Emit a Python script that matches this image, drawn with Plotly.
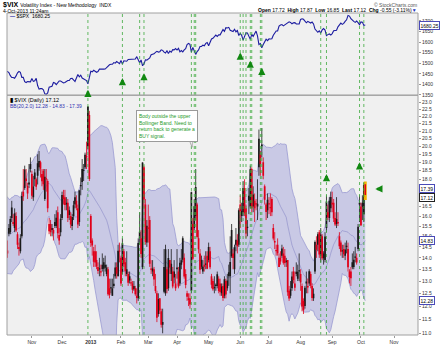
import math
import pandas as pd
import plotly.graph_objects as go

# ---------------- DATA ----------------
holidays = ['2012-10-29', '2012-10-30', '2012-11-22', '2012-12-25', '2013-01-01', '2013-01-21',
            '2013-02-18', '2013-03-29', '2013-05-27', '2013-07-04', '2013-09-02', '2013-11-28']
first_day = '2012-09-07'
last_day = '2013-10-04'
axis_end_day = '2013-11-29'

# $VIX daily OHLC, Sep-2012 .. 4-Oct-2013 (one row per month)
vix_open = [
    15.30, 15.20, 16.10, 15.60, 15.90, 13.70, 14.70, 14.60, 14.30, 14.80, 13.90, 15.30, 14.60, 16.90, 16.40, 16.10,
    15.60, 16.00, 16.20, 15.30, 14.20, 15.40, 15.20, 15.90, 15.70, 15.40, 16.00, 15.10, 14.50, 14.30, 15.00, 17.30, 17.50, 17.90, 17.20, 17.70, 18.90,
    18.30, 17.00, 18.00, 18.00, 18.20, 18.70, 19.00, 18.30, 18.50, 16.90, 18.00, 17.90, 15.60, 15.60, 15.40, 15.30, 15.70, 15.50, 16.20, 14.80, 15.20,
    15.90, 17.10, 17.00, 16.60, 16.70, 16.30, 16.00, 15.50, 16.00, 16.60, 16.80, 16.40, 15.70, 17.60, 18.60, 18.50, 18.70, 19.30, 20.00, 22.10,
    16.00, 14.80, 14.30, 14.30, 13.90, 13.60, 13.50, 13.40, 13.70, 13.80, 13.70, 13.30, 13.50, 12.70, 12.70, 12.40, 12.80, 13.20, 13.60, 13.20, 14.30,
    14.00, 13.40, 14.30, 13.80, 13.30, 13.30, 13.20, 12.90, 12.90, 12.80, 12.70, 12.40, 12.30, 14.90, 14.90, 13.60, 18.70, 16.60, 14.70,
    15.40, 15.80, 13.50, 13.40, 13.50, 12.80, 12.50, 11.70, 12.30, 11.80, 11.40, 13.60, 12.50, 13.50, 12.70, 13.90, 13.30, 13.40, 13.40, 12.90,
    13.50, 13.40, 12.90, 13.70, 14.90, 14.00, 13.30, 12.50, 12.30, 12.30, 12.60, 15.60, 15.40, 16.00, 16.60, 14.90, 14.20, 13.90, 13.40, 13.70, 13.70, 14.10,
    13.90, 14.30, 13.20, 13.00, 12.70, 12.80, 12.80, 13.10, 12.90, 12.50, 12.80, 12.40, 13.00, 12.70, 13.20, 13.20, 15.30, 14.20, 13.50, 14.60, 14.80, 14.60,
    16.60, 16.00, 16.20, 17.50, 16.40, 15.40, 16.80, 16.50, 18.60, 16.50, 16.40, 16.60, 16.50, 18.70, 19.50, 20.00, 19.00, 17.60, 16.60, 16.30,
    16.60, 16.40, 16.90, 15.40, 14.70, 14.30, 14.60, 13.60, 14.00, 14.10, 14.20, 14.10, 13.80, 13.90, 12.60, 12.40, 12.70, 13.40, 12.90, 13.30, 13.10, 13.40,
    13.30, 12.80, 12.20, 12.00, 12.90, 12.80, 12.90, 13.30, 12.80, 12.30, 13.40, 14.60, 14.60, 15.20, 14.10, 15.00, 14.20, 13.90, 15.40, 16.20, 15.90, 16.40,
    16.70, 16.70, 15.90, 15.60, 15.70, 15.00, 14.70, 14.30, 14.40, 14.10, 14.50, 14.40, 13.40, 13.40, 13.80, 13.60, 14.00, 14.00, 14.40, 16.70,
    16.50, 16.70, 16.10, 17.72,
]
vix_high = [
    15.60, 16.50, 16.40, 16.10, 16.20, 14.70, 15.00, 14.90, 14.60, 14.90, 14.70, 15.40, 16.90, 17.30, 16.60, 16.30,
    16.30, 16.40, 16.40, 15.50, 14.80, 15.60, 16.00, 16.80, 16.10, 16.40, 16.20, 15.20, 14.70, 15.10, 17.30, 18.60, 18.80, 18.60, 17.80, 18.90, 19.30,
    18.50, 18.20, 18.60, 18.10, 19.50, 19.70, 19.10, 18.60, 18.60, 18.60, 18.60, 18.00, 15.90, 15.80, 15.60, 15.40, 16.10, 16.30, 16.50, 15.40, 16.10,
    17.30, 17.40, 17.40, 17.00, 16.90, 16.50, 16.20, 16.10, 16.80, 17.30, 17.10, 16.60, 17.40, 18.10, 19.20, 18.90, 19.60, 20.30, 22.72, 22.40,
    16.10, 14.90, 14.50, 14.60, 14.30, 13.80, 14.00, 13.70, 14.20, 14.00, 14.10, 13.70, 13.60, 13.10, 13.10, 13.10, 13.30, 13.80, 13.80, 14.60, 14.70,
    14.10, 14.90, 14.40, 14.00, 14.30, 13.40, 13.40, 13.10, 13.00, 13.00, 12.80, 12.70, 14.90, 16.20, 15.30, 19.00, 18.80, 16.90, 15.80,
    16.60, 16.00, 13.90, 13.90, 13.60, 13.30, 12.60, 12.50, 12.30, 11.90, 11.90, 14.40, 14.60, 13.60, 14.40, 13.90, 14.40, 13.60, 13.90, 13.30,
    14.40, 13.60, 14.00, 14.40, 15.00, 14.20, 13.50, 12.60, 12.50, 12.50, 17.30, 15.90, 16.90, 18.60, 16.70, 15.30, 14.40, 14.10, 13.90, 14.10, 14.30, 14.30,
    14.70, 14.50, 13.30, 13.10, 13.20, 12.90, 13.40, 13.20, 13.10, 12.90, 12.90, 13.20, 13.10, 13.30, 13.70, 15.00, 15.60, 14.40, 14.60, 15.40, 15.10, 16.40,
    17.10, 16.70, 17.90, 18.00, 16.60, 15.80, 17.50, 18.80, 18.70, 17.60, 17.20, 16.90, 18.00, 21.10, 19.70, 21.20, 19.30, 17.70, 16.70, 17.20,
    17.00, 17.20, 17.00, 15.60, 15.20, 14.60, 14.90, 14.20, 14.30, 14.60, 14.50, 14.40, 14.00, 13.90, 12.80, 13.00, 13.40, 13.60, 13.40, 13.80, 13.70, 14.20,
    13.50, 12.90, 12.30, 12.80, 13.40, 13.10, 13.50, 13.40, 12.90, 12.70, 14.80, 15.00, 15.20, 15.30, 15.40, 15.10, 14.30, 15.20, 17.10, 16.60, 17.00, 17.30,
    17.30, 16.90, 16.20, 17.00, 16.20, 15.20, 14.80, 14.60, 14.60, 14.70, 14.80, 14.70, 13.50, 13.60, 14.20, 14.30, 14.50, 14.20, 15.60, 17.10,
    16.70, 17.10, 17.80, 17.87,
]
vix_low = [
    14.30, 15.10, 15.60, 15.40, 14.00, 13.30, 14.30, 14.10, 13.80, 13.90, 13.80, 14.70, 14.50, 16.20, 15.30, 15.40,
    15.30, 15.30, 15.30, 14.50, 14.00, 15.00, 15.10, 15.70, 15.50, 15.20, 15.20, 14.40, 14.10, 14.20, 14.90, 16.80, 17.40, 17.60, 16.90, 17.50, 18.40,
    16.90, 16.80, 17.60, 17.40, 17.70, 18.50, 18.10, 17.60, 17.40, 16.80, 17.30, 16.20, 15.10, 15.00, 15.00, 14.80, 15.40, 15.40, 14.90, 14.60, 15.00,
    15.80, 16.60, 16.30, 16.30, 15.70, 15.80, 15.40, 15.30, 15.80, 16.40, 16.30, 15.40, 15.50, 17.10, 17.40, 17.90, 18.60, 18.60, 19.80, 17.90,
    14.50, 14.10, 13.60, 13.60, 13.50, 13.30, 13.20, 13.20, 13.40, 13.20, 13.40, 13.20, 12.40, 12.30, 12.50, 12.40, 12.70, 13.10, 13.10, 13.20, 13.80,
    12.80, 13.30, 13.60, 13.20, 13.20, 12.80, 12.90, 12.80, 12.50, 12.60, 12.40, 12.10, 12.20, 14.60, 14.00, 13.50, 16.40, 14.60, 14.50,
    14.70, 13.60, 13.30, 13.20, 12.80, 12.50, 11.40, 11.60, 11.70, 11.20, 11.00, 12.50, 12.40, 12.50, 12.60, 13.30, 13.00, 12.70, 12.90, 12.60,
    13.10, 12.70, 12.80, 13.50, 13.80, 13.10, 12.70, 12.20, 12.00, 11.90, 12.50, 13.90, 15.30, 15.80, 14.90, 14.20, 13.30, 13.50, 13.30, 13.40, 13.50, 13.50,
    13.80, 13.50, 12.70, 12.60, 12.50, 12.60, 12.70, 12.50, 12.40, 12.40, 12.20, 12.30, 12.30, 12.60, 12.80, 12.50, 14.00, 13.50, 13.30, 14.30, 14.20, 14.50,
    15.40, 15.70, 16.00, 16.00, 14.90, 15.00, 16.10, 16.40, 16.20, 16.20, 15.70, 16.30, 15.80, 18.20, 18.20, 19.30, 18.00, 16.60, 15.80, 15.90,
    16.10, 16.00, 16.00, 14.80, 14.40, 14.10, 14.10, 13.60, 13.70, 14.00, 13.70, 13.60, 13.60, 12.40, 12.20, 12.30, 12.60, 12.90, 12.60, 13.20, 13.00, 13.00,
    12.60, 11.80, 11.70, 11.90, 12.50, 12.50, 12.80, 12.70, 12.20, 12.20, 13.30, 14.00, 14.30, 14.00, 13.80, 13.90, 13.70, 13.80, 15.20, 15.80, 15.70, 16.20,
    16.20, 15.70, 15.50, 15.40, 15.50, 14.40, 14.10, 14.00, 14.00, 13.90, 14.20, 13.40, 12.90, 12.80, 13.50, 13.50, 13.80, 13.70, 14.30, 15.70,
    15.50, 15.80, 15.70, 16.85,
]
vix_close = [
    14.38, 16.28, 15.80, 15.80, 14.05, 14.51, 14.59, 14.18, 13.88, 13.98, 14.51, 14.80, 16.81, 16.98, 15.43, 15.73,
    15.92, 15.71, 15.43, 14.55, 14.33, 15.12, 15.85, 16.44, 15.60, 16.14, 15.28, 14.60, 14.40, 14.90, 17.06, 17.04, 18.57, 18.05, 17.61, 17.81, 18.60,
    17.08, 17.59, 18.39, 17.58, 18.94, 19.08, 18.61, 17.88, 17.71, 18.14, 17.99, 16.41, 15.24, 15.19, 15.31, 15.14, 15.50, 15.92, 15.15, 15.06, 15.87,
    17.12, 16.90, 16.58, 16.70, 15.90, 16.05, 15.57, 15.95, 16.56, 17.00, 16.43, 15.57, 17.36, 17.67, 17.84, 18.48, 19.47, 19.40, 22.72, 18.02,
    14.68, 14.56, 13.83, 13.79, 13.62, 13.42, 13.49, 13.36, 13.51, 13.52, 13.56, 13.57, 12.46, 12.43, 12.69, 12.69, 12.89, 13.57, 13.31, 14.32, 14.28,
    12.90, 14.67, 13.72, 13.41, 13.50, 12.93, 13.02, 12.94, 12.64, 12.66, 12.46, 12.31, 14.68, 15.22, 14.17, 18.99, 16.87, 14.73, 15.51,
    15.36, 13.74, 13.48, 13.53, 13.06, 12.59, 11.56, 12.27, 11.83, 11.30, 11.30, 12.56, 14.39, 12.67, 13.99, 13.57, 13.74, 12.77, 13.15, 12.70,
    13.58, 12.77, 13.78, 13.89, 13.92, 13.19, 12.84, 12.36, 12.24, 12.06, 17.27, 13.96, 16.51, 17.56, 14.97, 14.39, 13.48, 13.61, 13.62, 13.61, 13.71, 13.52,
    14.49, 13.59, 12.85, 12.66, 12.73, 12.83, 13.28, 12.59, 12.55, 12.77, 12.31, 13.07, 12.45, 13.02, 13.37, 13.82, 14.07, 13.99, 14.48, 14.83, 14.53, 16.30,
    16.25, 16.27, 17.50, 16.14, 15.14, 15.44, 17.07, 18.59, 16.41, 17.15, 16.80, 16.61, 16.64, 20.49, 18.90, 20.11, 18.21, 16.86, 16.21, 16.86,
    16.60, 16.44, 16.20, 14.89, 14.78, 14.35, 14.21, 14.01, 13.84, 14.42, 13.78, 13.77, 13.88, 12.54, 12.29, 12.66, 13.19, 13.04, 12.72, 13.39, 13.39, 13.45,
    12.94, 11.98, 11.84, 12.72, 12.98, 12.73, 13.41, 12.81, 12.31, 12.48, 14.73, 14.37, 15.10, 14.15, 15.08, 13.98, 13.98, 14.99, 16.77, 15.94, 16.81, 17.01,
    16.61, 15.88, 15.58, 15.85, 15.63, 14.53, 14.28, 14.29, 14.16, 14.38, 14.53, 13.59, 13.16, 13.12, 13.59, 13.92, 14.01, 13.79, 15.46, 16.60,
    15.54, 16.48, 17.67, 17.12,
]
# $SPX daily close, same days
spx_close = [
    1437.9, 1429.1, 1433.6, 1436.6, 1460.0, 1465.8, 1461.2, 1459.3, 1461.1, 1460.3, 1460.2, 1456.9, 1441.6, 1433.3, 1447.2, 1440.7,
    1444.5, 1445.8, 1451.0, 1461.4, 1460.9, 1455.9, 1441.5, 1432.6, 1432.8, 1428.6, 1440.1, 1454.9, 1460.9, 1457.3, 1433.2, 1433.8, 1413.1, 1408.8, 1413.0, 1411.9, 1412.2,
    1427.6, 1414.2, 1417.3, 1428.4, 1394.5, 1377.5, 1379.9, 1380.0, 1374.5, 1355.5, 1353.3, 1359.9, 1386.9, 1387.8, 1391.0, 1409.2, 1406.3, 1398.9, 1409.9, 1416.0, 1416.2,
    1409.5, 1407.1, 1409.3, 1413.9, 1418.1, 1418.6, 1427.8, 1428.5, 1419.5, 1413.6, 1430.4, 1446.8, 1435.8, 1443.7, 1430.2, 1426.7, 1419.8, 1418.1, 1402.4, 1426.2,
    1462.4, 1459.4, 1466.5, 1461.9, 1457.2, 1461.0, 1472.1, 1472.1, 1470.7, 1472.3, 1472.6, 1480.9, 1486.0, 1492.6, 1494.8, 1494.8, 1503.0, 1500.2, 1507.8, 1502.0, 1498.1,
    1513.2, 1495.7, 1511.3, 1512.1, 1509.4, 1517.9, 1518.0, 1519.4, 1520.3, 1521.4, 1519.8, 1530.9, 1512.0, 1502.4, 1515.6, 1487.9, 1496.9, 1516.0, 1514.7,
    1518.2, 1525.2, 1539.8, 1541.5, 1544.3, 1551.2, 1556.2, 1552.5, 1554.5, 1563.2, 1560.7, 1552.1, 1548.3, 1558.7, 1545.8, 1556.9, 1551.7, 1563.8, 1562.9, 1569.2,
    1562.2, 1570.3, 1553.7, 1560.0, 1553.3, 1563.1, 1568.6, 1587.7, 1593.4, 1588.9, 1552.4, 1574.6, 1552.0, 1541.6, 1555.3, 1562.5, 1578.8, 1578.8, 1585.2, 1582.2, 1593.6, 1597.6,
    1582.7, 1597.6, 1614.4, 1617.5, 1626.0, 1632.7, 1626.7, 1633.7, 1633.8, 1650.3, 1658.8, 1650.5, 1667.5, 1666.3, 1669.2, 1655.4, 1650.5, 1649.6, 1660.1, 1648.4, 1654.4, 1630.7,
    1640.4, 1631.4, 1608.9, 1622.6, 1643.4, 1642.8, 1626.1, 1612.5, 1636.4, 1626.7, 1639.0, 1651.8, 1628.9, 1588.2, 1592.4, 1573.1, 1588.0, 1603.3, 1613.2, 1606.3,
    1615.0, 1614.1, 1615.4, 1631.9, 1640.5, 1652.3, 1652.6, 1675.0, 1680.2, 1682.5, 1676.3, 1680.9, 1689.4, 1692.1, 1695.5, 1692.4, 1685.9, 1690.3, 1691.7, 1685.3, 1686.0, 1685.7,
    1706.9, 1709.7, 1707.1, 1697.4, 1690.9, 1697.5, 1691.4, 1689.5, 1694.2, 1685.4, 1661.3, 1655.8, 1646.1, 1652.4, 1642.8, 1657.0, 1663.5, 1656.8, 1630.5, 1635.0, 1638.2, 1633.0,
    1639.8, 1653.1, 1655.1, 1655.2, 1671.7, 1684.0, 1689.1, 1683.4, 1688.0, 1697.6, 1704.8, 1725.5, 1722.3, 1709.9, 1701.8, 1697.4, 1692.8, 1698.7, 1691.8, 1681.6,
    1695.0, 1693.9, 1678.7, 1680.25,
]

# signal lines and arrows
signal_dates = ['2012-12-28', '2013-02-04', '2013-02-21', '2013-02-26', '2013-04-15', '2013-04-17',
                '2013-04-18', '2013-06-03', '2013-06-05', '2013-06-07', '2013-06-12', '2013-06-13',
                '2013-06-21', '2013-06-24', '2013-08-21', '2013-08-27', '2013-09-30', '2013-10-03']
spx_arrow_dates = ['2012-12-28', '2013-02-04', '2013-02-26', '2013-06-03', '2013-06-12', '2013-06-24']
spx_arrow_levels = [1375, 1430, 1453, 1550, 1512, 1478]
vix_arrow_dates = ['2013-08-27', '2013-09-30']
vix_arrow_levels = [18.3, 19.0]
pointer_date = '2013-10-15'
pointer_level = 17.45

vix_ticks = [11.0 + 0.5 * i for i in range(25)]
spx_ticks = [1350, 1400, 1450, 1500, 1550, 1600, 1650, 1700]
month_labels = ['Nov', 'Dec', '<b>2013</b>', 'Feb', 'Mar', 'Apr', 'May', 'Jun', 'Jul', 'Aug', 'Sep', 'Oct', 'Nov']

note_text = 'Body outside the upper<br>Bollinger Band. Need to<br>return back to generate a<br>BUY signal.'

# ---------------- BUILD ----------------
days = pd.bdate_range(first_day, axis_end_day)
days = days[~days.isin(pd.to_datetime(holidays))]
n = len(vix_close)
assert len(vix_open) == n and len(vix_high) == n and len(vix_low) == n and len(spx_close) == n
assert days[n - 1] == pd.Timestamp(last_day), days[n - 1]
pos = {d: i for i, d in enumerate(days)}
xi = list(range(n))


def X(d):
    return pos[pd.Timestamp(d)]


close_s = pd.Series(vix_close)
mid = close_s.rolling(20).mean()
sd = close_s.rolling(20).std(ddof=0)
upper = mid + 2 * sd
lower = mid - 2 * sd

sel = days[(days >= '2012-11-01')]
month_first = pd.Series(range(len(days)), index=days)[sel].groupby([sel.year, sel.month]).min()
tickpos = list(month_first.values)[:len(month_labels)]

W, H = 440, 352
ML, MR, MT, MB = 7, 20, 13, 8
PH = H - MT - MB
split = (344 - 97.5) / PH

FONT = 'Liberation Sans, Arial, sans-serif'
GREEN = '#1f9a1f'

fig = go.Figure()

fig.add_trace(go.Scatter(x=xi, y=upper, mode='lines', line=dict(color='#9a9ad2', width=0.8),
                         hoverinfo='skip', showlegend=False))
fig.add_trace(go.Scatter(x=xi, y=lower, mode='lines', line=dict(color='#9a9ad2', width=0.8),
                         fill='tonexty', fillcolor='rgba(178,178,222,0.62)', hoverinfo='skip', showlegend=False))
fig.add_trace(go.Scatter(x=xi, y=mid, mode='lines', line=dict(color='#8c8cc8', width=0.6),
                         hoverinfo='skip', showlegend=False))

# candles drawn as wick + body segments (StockCharts colouring: red if close below prior close)
groups = {'black': ([], [], [], []), 'red': ([], [], [], [])}
for i in range(n - 1):
    prev = vix_close[i - 1] if i > 0 else vix_open[i]
    g = 'red' if vix_close[i] < prev else 'black'
    wx, wy, bx, by = groups[g]
    wx += [i, i, None]
    wy += [vix_low[i], vix_high[i], None]
    lo_b, hi_b = min(vix_open[i], vix_close[i]), max(vix_open[i], vix_close[i])
    if hi_b / lo_b < 1.004:
        hi_b = lo_b * 1.004
    bx += [i, i, None]
    by += [lo_b, hi_b, None]
colors = {'black': '#1a1a1a', 'red': '#e0001a'}
for g, (wx, wy, bx, by) in groups.items():
    fig.add_trace(go.Scatter(x=wx, y=wy, mode='lines', line=dict(color=colors[g], width=0.8),
                             hoverinfo='skip', showlegend=False))
    fig.add_trace(go.Scatter(x=bx, y=by, mode='lines', line=dict(color=colors[g], width=1.7),
                             hoverinfo='skip', showlegend=False))
j = n - 1
fig.add_trace(go.Scatter(x=[j, j], y=[vix_low[j], vix_high[j]], mode='lines',
                         line=dict(color='#f2b400', width=3), hoverinfo='skip', showlegend=False))
fig.add_trace(go.Scatter(x=[j, j], y=[min(vix_open[j], vix_close[j]), max(vix_open[j], vix_close[j])],
                         mode='lines', line=dict(color='#e0001a', width=1.6), hoverinfo='skip', showlegend=False))

fig.add_trace(go.Scatter(x=xi, y=spx_close, yaxis='y2', mode='lines',
                         line=dict(color='#1c1ca0', width=1.1), showlegend=False, hoverinfo='skip'))

shapes = []
for d in signal_dates:
    x = X(d)
    shapes.append(dict(type='line', xref='x', yref='paper', x0=x, x1=x, y0=0, y1=1,
                       line=dict(color='#3caa3c', width=0.8, dash='dot'), layer='above'))
shapes.append(dict(type='rect', xref='paper', yref='paper', x0=0, x1=1, y0=split, y1=1,
                   line=dict(color='#a0a0a0', width=1)))
shapes.append(dict(type='rect', xref='paper', yref='paper', x0=0, x1=1, y0=0, y1=split,
                   line=dict(color='#a0a0a0', width=1)))

ann = []


def fx(px):
    return (px - ML) / (W - ML - MR)


def fy(py):
    return (H - MB - py) / PH


ann.append(dict(xref='paper', yref='paper', x=fx(1), y=fy(5), xanchor='left', yanchor='middle',
                text='<b>$VIX</b> <span style="font-size:5px">Volatility Index - New Methodology  INDX</span>',
                font=dict(size=7, color='#000', family=FONT), showarrow=False))
ann.append(dict(xref='paper', yref='paper', x=fx(1), y=fy(10.5), xanchor='left', yanchor='middle',
                text='4-Oct-2013 11:24am', font=dict(size=5, color='#000', family=FONT), showarrow=False))
ann.append(dict(xref='paper', yref='paper', x=fx(421), y=fy(4.5), xanchor='right', yanchor='middle',
                text='© StockCharts.com', font=dict(size=5, color='#555', family=FONT), showarrow=False))
ann.append(dict(xref='paper', yref='paper', x=fx(421), y=fy(10), xanchor='right', yanchor='middle',
                text='<b>Open</b> 17.72  <b>High</b> 17.87  <b>Low</b> 16.85  <b>Last</b> 17.12  <b>Chg</b> -0.55 (-3.11%)<span style="color:#2030c0">▼</span>',
                font=dict(size=5, color='#000', family=FONT), showarrow=False))
ann.append(dict(xref='paper', yref='paper', x=fx(8), y=fy(16), xanchor='left', yanchor='middle',
                text='<span style="color:#1c1ca0"><b>—</b></span> $SPX  1680.25',
                font=dict(size=5, color='#000', family=FONT), showarrow=False))
ann.append(dict(xref='paper', yref='paper', x=fx(8), y=fy(102.5), xanchor='left', yanchor='middle',
                text='<b>▮</b> $VIX (Daily) 17.12', font=dict(size=5.5, color='#000', family=FONT), showarrow=False))
ann.append(dict(xref='paper', yref='paper', x=fx(8), y=fy(108.5), xanchor='left', yanchor='middle',
                text='BB(20,2.0) 12.28 - 14.83 - 17.39', font=dict(size=5, color='#3030b0', family=FONT),
                showarrow=False))
ann.append(dict(xref='paper', yref='paper', x=fx(137), y=fy(112.5), xanchor='left', yanchor='top',
                text=note_text, align='left', font=dict(size=5, color=GREEN, family=FONT),
                bgcolor='white', bordercolor='#9a9a9a', borderwidth=1, borderpad=2, showarrow=False))
shapes.append(dict(type='path', xref='paper', yref='paper',
                   path=f'M {fx(189)} {fy(140.5)} L {fx(193)} {fy(151)} L {fx(193.5)} {fy(140.5)} Z',
                   fillcolor='white', line=dict(color='#9a9a9a', width=0.8)))


def tag(val, text, border, yref):
    yy = math.log10(val) if yref == 'y' else val
    return dict(xref='paper', yref=yref, x=1.0, y=yy, xanchor='left', yanchor='middle', xshift=1,
                text=text, font=dict(size=5, color='#000', family=FONT), bgcolor='white',
                bordercolor=border, borderwidth=1, borderpad=0.5, showarrow=False)


ann.append(tag(1680.25, '1680.25', '#4a4ab8', 'y2'))
ann.append(tag(float(upper.iloc[-1]) + 0.12, '17.39', '#4a4ab8', 'y'))
ann.append(tag(float(vix_close[-1]) - 0.12, '17.12', '#222222', 'y'))
ann.append(tag(float(mid.iloc[-1]), '14.83', '#4a4ab8', 'y'))
ann.append(tag(float(lower.iloc[-1]), '12.28', '#4a4ab8', 'y'))

ARW = dict(showarrow=True, arrowhead=2, arrowsize=0.6, arrowwidth=2.4, arrowcolor='#118811', text='')
for d, lv in zip(spx_arrow_dates, spx_arrow_levels):
    ann.append(dict(xref='x', yref='y2', x=X(d), y=lv, ax=0, ay=7, **ARW))
for d, lv in zip(vix_arrow_dates, vix_arrow_levels):
    ann.append(dict(xref='x', yref='y', x=X(d), y=math.log10(lv), ax=0, ay=7, **ARW))
ann.append(dict(xref='x', yref='y', x=X(pointer_date), y=math.log10(pointer_level), ax=7, ay=0, **ARW))

vix_lo, vix_hi = 10.94, 23.55
x_lo = X('2012-11-01') - 25 / 1.444
x_hi = X('2012-11-01') + 388 / 1.444

fig.update_layout(
    width=W, height=H, margin=dict(l=ML, r=MR, t=MT, b=MB),
    paper_bgcolor='white', plot_bgcolor='#f0f0f0',
    font=dict(family=FONT, size=5, color='#333'),
    showlegend=False, shapes=shapes, annotations=ann,
    xaxis=dict(range=[x_lo, x_hi], tickvals=tickpos, ticktext=month_labels, showgrid=False,
               zeroline=False, ticks='outside', ticklen=2, tickcolor='#999', tickfont=dict(size=5, color='#333'),
               anchor='y', showline=False),
    yaxis=dict(type='log', domain=[0, split], range=[math.log10(vix_lo), math.log10(vix_hi)], side='right',
               tickvals=vix_ticks, ticktext=[f'{v:.1f}' for v in vix_ticks], showgrid=False, zeroline=False,
               ticks='outside', ticklen=2, tickcolor='#999', tickfont=dict(size=5, color='#333')),
    yaxis2=dict(domain=[split, 1], range=[1349, 1737], side='right', anchor='x',
                tickvals=spx_ticks, ticktext=[str(v) for v in spx_ticks], showgrid=False, zeroline=False,
                ticks='outside', ticklen=2, tickcolor='#999', tickfont=dict(size=5, color='#333')),
)

fig.write_html('out.html')
